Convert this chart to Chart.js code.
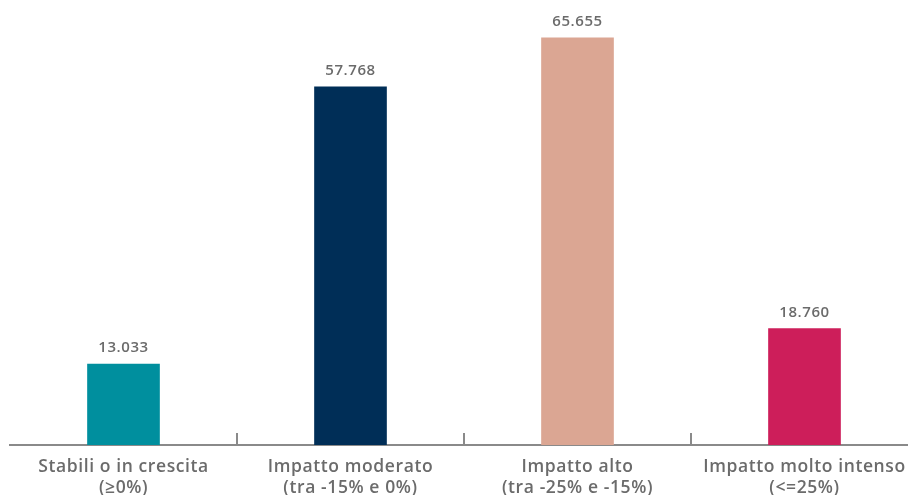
<!DOCTYPE html>
<html>
<head>
<meta charset="utf-8">
<script src="https://cdn.jsdelivr.net/npm/chart.js@4"></script>
<style>
  html, body { margin: 0; padding: 0; background: #fff; overflow: hidden; }
  #wrap { width: 920px; height: 495px; position: relative; }
</style>
</head>
<body>
<div id="wrap"><canvas id="c"></canvas></div>
<script>
// Category names (two lines each) and counts per impact band
const categoryNames = ['Stabili o in crescita', 'Impatto moderato', 'Impatto alto', 'Impatto molto intenso'];
const categoryRanges = ['(≥0%)', '(tra -15% e 0%)', '(tra -25% e -15%)', '(<=25%)'];
const counts = [13033, 57768, 65655, 18760];
const barColors = ['#008F9E', '#002E57', '#DBA693', '#CD1E5A'];

const textGrey = '#6b6b6b';
const axisGrey = '#8a8a8a';
const tracking = '0.6px';

function formatIt(n) {
  return String(n).replace(/\B(?=(\d{3})+(?!\d))/g, '.');
}

// Slightly open letter spacing for all chart text
const letterSpacing = {
  id: 'letterSpacing',
  beforeDraw(chart) { chart.ctx.letterSpacing = tracking; },
  afterDraw(chart) { chart.ctx.letterSpacing = '0px'; }
};

// Value labels above each bar
const valueLabels = {
  id: 'valueLabels',
  afterDatasetsDraw(chart) {
    const { ctx } = chart;
    const meta = chart.getDatasetMeta(0);
    ctx.save();
    ctx.letterSpacing = tracking;
    ctx.font = '600 15px "Open Sans"';
    ctx.fillStyle = textGrey;
    ctx.textAlign = 'center';
    ctx.textBaseline = 'alphabetic';
    meta.data.forEach((bar, i) => {
      ctx.fillText(formatIt(counts[i]), bar.x, bar.y - 12);
    });
    ctx.restore();
  }
};

// Short upward separators between categories, sitting on the axis line
const separators = {
  id: 'separators',
  afterDraw(chart) {
    const { ctx, scales: { x }, chartArea } = chart;
    ctx.save();
    ctx.strokeStyle = axisGrey;
    ctx.lineWidth = 2;
    for (let i = 0; i < counts.length - 1; i++) {
      const px = Math.round((x.getPixelForTick(i) + x.getPixelForTick(i + 1)) / 2);
      ctx.beginPath();
      ctx.moveTo(px, chartArea.bottom);
      ctx.lineTo(px, chartArea.bottom - 12);
      ctx.stroke();
    }
    ctx.restore();
  }
};

new Chart(document.getElementById('c'), {
  type: 'bar',
  data: {
    labels: categoryNames.map((n, i) => [n, categoryRanges[i]]),
    datasets: [{
      data: counts,
      backgroundColor: barColors,
      barThickness: 72,
      borderWidth: 0
    }]
  },
  options: {
    responsive: true,
    maintainAspectRatio: false,
    animation: false,
    layout: { padding: { left: 10, right: 2, top: 11, bottom: 0 } },
    plugins: { legend: { display: false }, tooltip: { enabled: false } },
    scales: {
      y: { display: false, min: 0, max: 70000 },
      x: {
        grid: { display: false, drawTicks: false },
        border: { display: true, color: axisGrey, width: 2 },
        ticks: {
          color: textGrey,
          padding: 12,
          maxRotation: 0,
          autoSkip: false,
          font: { family: '"Open Sans"', size: 17.5, weight: '600', lineHeight: 1.2 }
        },
        afterFit(scale) { scale.height = 50; }
      }
    }
  },
  plugins: [letterSpacing, valueLabels, separators]
});
</script>
</body>
</html>
